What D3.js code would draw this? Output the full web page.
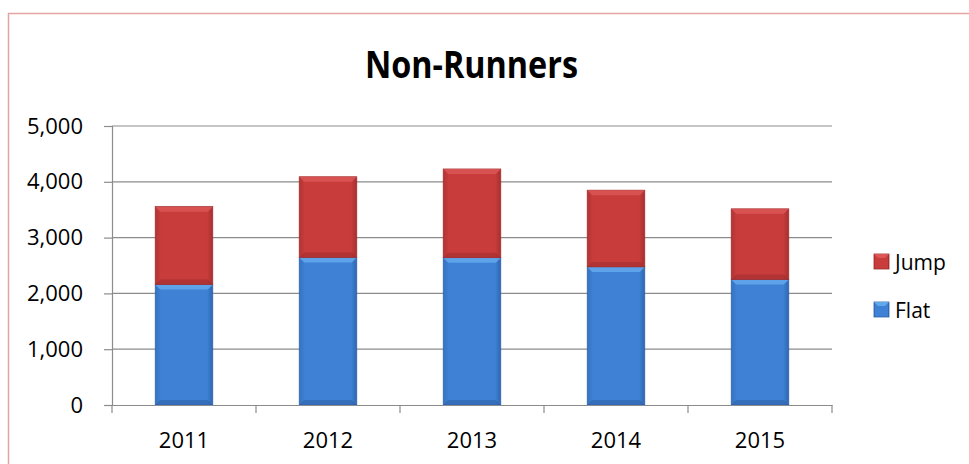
<!DOCTYPE html>
<html lang="en">
<head>
<meta charset="UTF-8">
<title>Non-Runners</title>
<script src="https://cdnjs.cloudflare.com/ajax/libs/d3/7.8.2/d3.min.js"></script>
<style>
    body { margin: 0; background: #fff; }
    svg { display: block; font-family: "Open Sans", "Liberation Sans", sans-serif; }
</style>
</head>
<body>
<div class="container"></div>
<script>
    // data
    const years = ['2011', '2012', '2013', '2014', '2015'];
    const flat = [2160, 2645, 2640, 2475, 2250];
    const jump = [1395, 1445, 1590, 1375, 1265];
    const yTicks = [0, 1000, 2000, 3000, 4000, 5000];
    const seriesNames = ['Jump', 'Flat'];

    const width = 969, height = 464;
    const plot = { left: 112, right: 832, top: 126, bottom: 405 };

    const svg = d3.select('.container').append('svg')
        .attr('width', width).attr('height', height);

    // chart border
    svg.append('rect')
        .attr('x', 8.5).attr('y', 13.5)
        .attr('width', 980).attr('height', 470)
        .attr('fill', 'none').attr('stroke', '#e4a4a2').attr('stroke-width', 1.5);

    svg.append('text')
        .attr('x', 365).attr('y', 78)
        .attr('textLength', 213).attr('lengthAdjust', 'spacingAndGlyphs')
        .style('font-family', '"Open Sans", sans-serif')
        .style('font-size', '38px').style('font-weight', 'bold')
        .text('Non-Runners');

    const x = d3.scaleBand().domain(years).range([plot.left, plot.right]).paddingInner(0.6).paddingOuter(0.3);
    const band = d3.scaleBand().domain(years).range([plot.left, plot.right]);
    const y = d3.scaleLinear().domain([0, 5000]).range([plot.bottom, plot.top]);

    // gridlines
    svg.append('g').selectAll('line').data(yTicks.slice(1)).enter().append('line')
        .attr('x1', plot.left).attr('x2', plot.right)
        .attr('y1', d => y(d)).attr('y2', d => y(d))
        .attr('stroke', '#8c8c8c').attr('stroke-width', 1.2);

    // gradients
    const defs = svg.append('defs');
    const grad = (id, stops) => {
        const g = defs.append('linearGradient').attr('id', id).attr('x1', 0).attr('x2', 1).attr('y1', 0).attr('y2', 0);
        stops.forEach(s => g.append('stop').attr('offset', s[0]).attr('stop-color', s[1]));
    };
    grad('gBlue', [[0, '#3571c2'], [0.1, '#3e81d5'], [0.9, '#3e81d5'], [1, '#3066b2']]);
    grad('gRed', [[0, '#b23334'], [0.1, '#c93c3c'], [0.9, '#c93c3c'], [1, '#a82f30']]);

    const stacked = years.map((yr, i) => [
        { key: 'Flat', y0: 0, y1: flat[i], yr },
        { key: 'Jump', y0: flat[i], y1: flat[i] + jump[i], yr }
    ]).flat();

    const colors = {
        Flat: { fill: 'url(#gBlue)', top: '#64a8ec', bottom: '#3163a8', stroke: '#2f62a6' },
        Jump: { fill: 'url(#gRed)', top: '#dc5656', bottom: '#a22d2e', stroke: '#9a2c2d' }
    };

    const segs = svg.append('g').selectAll('g').data(stacked).enter().append('g');
    const bv = 5;
    segs.append('rect')
        .attr('x', d => x(d.yr)).attr('width', x.bandwidth())
        .attr('y', d => y(d.y1)).attr('height', d => y(d.y0) - y(d.y1))
        .attr('fill', d => colors[d.key].fill)
        .attr('stroke', d => colors[d.key].stroke).attr('stroke-width', 0.7);
    // top bevel
    segs.append('path')
        .attr('d', d => {
            const x0 = x(d.yr), x1 = x0 + x.bandwidth(), t = y(d.y1);
            return `M${x0},${t}L${x1},${t}L${x1 - bv},${t + bv}L${x0 + bv},${t + bv}Z`;
        })
        .attr('fill', d => colors[d.key].top).attr('opacity', 0.85);
    // bottom bevel
    segs.append('path')
        .attr('d', d => {
            const x0 = x(d.yr), x1 = x0 + x.bandwidth(), b = y(d.y0);
            return `M${x0},${b}L${x1},${b}L${x1 - bv},${b - bv}L${x0 + bv},${b - bv}Z`;
        })
        .attr('fill', d => colors[d.key].bottom).attr('opacity', 0.6);

    // y axis
    const yAxis = d3.axisLeft(y).tickValues(yTicks).tickSize(8).tickPadding(21).tickFormat(d3.format(','));
    const ya = svg.append('g').attr('transform', `translate(${plot.left},0)`).call(yAxis)
        .attr('font-family', null);
    ya.select('.domain').attr('stroke', '#8c8c8c').attr('stroke-width', 1.2);
    ya.selectAll('.tick line').attr('stroke', '#8c8c8c').attr('stroke-width', 1.2);
    ya.selectAll('text').style('font-size', '22px').attr('fill', '#000');

    // x axis
    const xa = svg.append('g').attr('transform', `translate(0,${plot.bottom})`)
        .call(d3.axisBottom(band).tickSize(0).tickPadding(27))
        .attr('font-family', null);
    xa.select('.domain').attr('stroke', '#8c8c8c').attr('stroke-width', 1.2);
    xa.selectAll('text').style('font-size', '22px').attr('fill', '#000');
    xa.selectAll('.sep').data(years.concat(['end'])).enter().append('line')
        .attr('x1', (d, i) => plot.left + i * band.bandwidth())
        .attr('x2', (d, i) => plot.left + i * band.bandwidth())
        .attr('y1', 0).attr('y2', 8)
        .attr('stroke', '#8c8c8c').attr('stroke-width', 1.2);

    // legend
    const legend = svg.append('g').attr('transform', 'translate(874,254)');
    const li = legend.selectAll('g').data(seriesNames).enter().append('g')
        .attr('transform', (d, i) => `translate(0,${i * 48})`);
    li.append('rect').attr('width', 15).attr('height', 15)
        .attr('fill', d => colors[d].fill).attr('stroke', d => colors[d].stroke).attr('stroke-width', 0.8);
    li.append('path').attr('d', 'M0,0L15,0L11,4L4,4Z').attr('fill', d => colors[d].top);
    li.append('text').attr('x', 21).attr('y', 15.5).style('font-size', '21px').text(d => d);
</script>
</body>
</html>
